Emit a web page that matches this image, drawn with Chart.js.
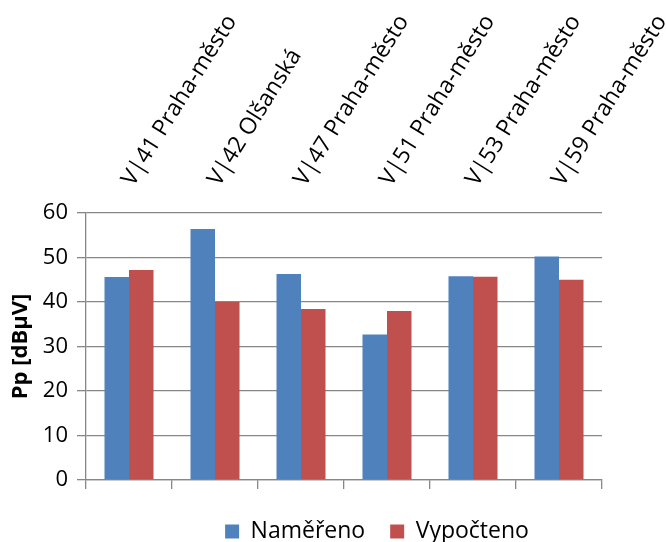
<!DOCTYPE html>
<html>
<head>
<meta charset="utf-8">
<script src="https://cdn.jsdelivr.net/npm/chart.js@4/dist/chart.umd.min.js"></script>
<style>
  html, body { margin: 0; padding: 0; background: #ffffff; }
  #wrap { width: 666px; height: 542px; }
</style>
</head>
<body>
<div id="wrap"><canvas id="c" width="666" height="542"></canvas></div>
<script>
// Měřicí body
const categories = [
  'V|41 Praha-město',
  'V|42 Olšanská',
  'V|47 Praha-město',
  'V|51 Praha-město',
  'V|53 Praha-město',
  'V|59 Praha-město'
];
// Naměřené hodnoty Pp [dBµV]
const namereno = [45.6, 56.4, 46.3, 32.7, 45.8, 50.2];
// Vypočtené hodnoty Pp [dBµV]
const vypocteno = [47.2, 40.0, 38.4, 38.0, 45.7, 45.0];
// Popisky osy Y
const yTicks = [0, 10, 20, 30, 40, 50, 60];

const FONT = "'Open Sans', 'DejaVu Sans', sans-serif";
const AXIS_GREY = '#878787';
// posun legendy vůči výchozímu vystředění
const LEGEND_SHIFT_X = 76;
const LEGEND_SHIFT_Y = 6;

Chart.defaults.font.family = FONT;
Chart.defaults.color = '#000000';

new Chart(document.getElementById('c'), {
  type: 'bar',
  data: {
    labels: categories,
    datasets: [
      { label: 'Naměřeno', data: namereno, backgroundColor: '#4F81BD', xAxisID: 'x' },
      { label: 'Vypočteno', data: vypocteno, backgroundColor: '#C0504D', xAxisID: 'x' }
    ]
  },
  options: {
    responsive: false,
    animation: false,
    events: [],
    layout: { padding: { left: 0, right: 64, top: 0, bottom: 0 } },
    datasets: { bar: { categoryPercentage: 0.57, barPercentage: 1.0 } },
    scales: {
      x: {
        type: 'category',
        position: 'bottom',
        offset: true,
        grid: {
          offset: true,
          drawOnChartArea: false,
          drawTicks: true,
          tickLength: 9,
          color: AXIS_GREY,
          lineWidth: 1.3
        },
        border: { display: true, color: AXIS_GREY, width: 1.3 },
        ticks: { display: false },
        afterFit(scale) { scale.height = 9; scale.paddingLeft = 0; scale.paddingRight = 0; }
      },
      x2: {
        type: 'category',
        position: 'top',
        labels: categories,
        offset: true,
        grid: { display: false, drawTicks: false },
        border: { display: false },
        ticks: {
          minRotation: 58,
          maxRotation: 58,
          autoSkip: false,
          padding: 22,
          labelOffset: 22,
          font: { size: 23, family: FONT },
          color: '#000000'
        },
        afterFit(scale) { scale.height = 213; scale.paddingLeft = 0; scale.paddingRight = 0; }
      },
      y: {
        min: 0,
        max: 60,
        afterBuildTicks(scale) { scale.ticks = yTicks.map(v => ({ value: v })); },
        grid: {
          color: AXIS_GREY,
          lineWidth: 1.3,
          drawTicks: true,
          tickLength: 9
        },
        border: { display: true, color: AXIS_GREY, width: 1.3 },
        ticks: {
          padding: 9,
          font: { size: 22, family: FONT },
          color: '#000000'
        },
        title: {
          display: true,
          text: 'Pp [dBµV]',
          font: { size: 22, weight: 'bold', family: FONT },
          color: '#000000',
          padding: { top: 8, bottom: 0 }
        },
        afterFit(scale) { scale.width = 86; scale.paddingTop = 0; scale.paddingBottom = 0; }
      }
    },
    plugins: {
      legend: {
        display: true,
        position: 'bottom',
        maxHeight: 53,
        labels: {
          boxWidth: 14,
          boxHeight: 14,
          padding: 25,
          color: '#000000',
          font: { size: 23, family: FONT }
        }
      },
      tooltip: { enabled: false },
      title: { display: false }
    }
  },
  plugins: [{
    id: 'legendShift',
    afterLayout(chart) {
      const lg = chart.legend;
      lg.left += LEGEND_SHIFT_X;
      lg.right += LEGEND_SHIFT_X;
      lg.top += LEGEND_SHIFT_Y;
      lg.bottom += LEGEND_SHIFT_Y;
    }
  }]
});
</script>
</body>
</html>
